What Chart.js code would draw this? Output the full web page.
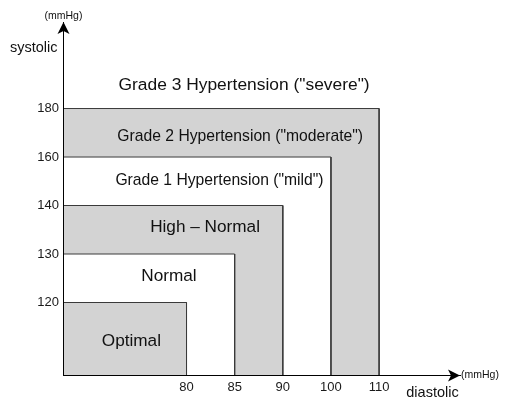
<!DOCTYPE html>
<html>
<head>
<meta charset="utf-8">
<script src="https://cdn.jsdelivr.net/npm/chart.js@4/dist/chart.umd.min.js"></script>
<style>
  html, body { margin: 0; padding: 0; background: #ffffff; }
  #wrap { width: 514px; height: 413px; }
</style>
</head>
<body>
<div id="wrap"><canvas id="c" width="514" height="413"></canvas></div>
<script>
// ---- data ----
const diastolicTicks = [80, 85, 90, 100, 110];          // mmHg (x axis)
const systolicTicks  = [120, 130, 140, 160, 180];       // mmHg (y axis)
const categories = [
  'Optimal',
  'Normal',
  'High \u2013 Normal',
  'Grade 1 Hypertension ("mild")',
  'Grade 2 Hypertension ("moderate")',
  'Grade 3 Hypertension ("severe")'
];
const upperDiastolic = [80, 85, 90, 100, 110, null];     // upper bound of each class
const upperSystolic  = [120, 130, 140, 160, 180, null];

// ---- layout / style (kept apart from data) ----
const X_FIRST = 2.555;   // ordinal position of the first diastolic tick
const Y_FIRST = 1.505;   // ordinal position of the first systolic tick
const X_MAX = 8.235, Y_MAX = 7.289;
const fills = ['#d3d3d3', '#ffffff', '#d3d3d3', '#ffffff', '#d3d3d3', null];
const labelAnchors = [[1.41, 0.71], [2.19, 2.05], [2.94, 3.06], [3.24, 4.01], [3.67, 4.93], [3.75, 5.98]];
const labelSizes = [17.2, 17.2, 17.2, 15.7, 15.7, 17.4];
const FONT = '"Liberation Sans", Arial, sans-serif';

const xPos = v => X_FIRST + diastolicTicks.indexOf(v);
const yPos = v => Y_FIRST + systolicTicks.indexOf(v);

const datasets = [];
categories.forEach((name, i) => {
  if (upperDiastolic[i] == null) return;
  const x = xPos(upperDiastolic[i]), y = yPos(upperSystolic[i]);
  datasets.push({
    label: name,
    data: [{x: 0, y: y}, {x: x, y: y}, {x: x, y: 0}],
    borderColor: '#3a3a3a',
    borderWidth: 1,
    backgroundColor: fills[i],
    fill: 'origin',
    pointRadius: 0,
    tension: 0
  });
});

const decor = {
  id: 'decor',
  afterDatasetsDraw(chart) {
    const ctx = chart.ctx;
    const xs = chart.scales.x, ys = chart.scales.y;
    const ca = chart.chartArea;
    ctx.save();
    // region labels
    ctx.fillStyle = '#111';
    ctx.textAlign = 'center';
    ctx.textBaseline = 'middle';
    categories.forEach((name, i) => {
      ctx.font = labelSizes[i] + 'px ' + FONT;
      ctx.fillText(name, xs.getPixelForValue(labelAnchors[i][0]), ys.getPixelForValue(labelAnchors[i][1]));
    });
    // axes (redrawn on top) and arrowheads
    ctx.strokeStyle = '#000';
    ctx.lineWidth = 1;
    ctx.beginPath();
    ctx.moveTo(ca.left, ca.top + 4); ctx.lineTo(ca.left, ca.bottom); ctx.lineTo(ca.right - 4, ca.bottom);
    ctx.stroke();
    ctx.fillStyle = '#000';
    ctx.beginPath();
    ctx.moveTo(ca.left, ca.top);
    ctx.lineTo(ca.left - 6, ca.top + 12);
    ctx.lineTo(ca.left, ca.top + 9);
    ctx.lineTo(ca.left + 6, ca.top + 12);
    ctx.closePath(); ctx.fill();
    ctx.beginPath();
    ctx.moveTo(ca.right, ca.bottom);
    ctx.lineTo(ca.right - 12, ca.bottom - 6);
    ctx.lineTo(ca.right - 9, ca.bottom);
    ctx.lineTo(ca.right - 12, ca.bottom + 6);
    ctx.closePath(); ctx.fill();
    // axis titles
    ctx.fillStyle = '#111';
    ctx.font = '10.5px ' + FONT;
    ctx.textAlign = 'center';
    ctx.fillText('(mmHg)', ca.left, ca.top - 6);
    ctx.textAlign = 'left';
    ctx.fillText('(mmHg)', ca.right + 1, ca.bottom);
    ctx.font = '14.5px ' + FONT;
    ctx.textAlign = 'right';
    ctx.fillText('systolic', ca.left - 6, ca.top + 25.5);
    ctx.textAlign = 'center';
    ctx.fillText('diastolic', ca.right - 27.5, ca.bottom + 17.5);
    ctx.restore();
  }
};

new Chart(document.getElementById('c'), {
  type: 'line',
  data: { datasets },
  options: {
    responsive: false,
    animation: false,
    layout: { padding: { top: 22, right: 54, left: 0, bottom: 0 } },
    plugins: { legend: { display: false }, tooltip: { enabled: false } },
    scales: {
      x: {
        type: 'linear', min: 0, max: X_MAX,
        grid: { display: false, drawTicks: false },
        border: { display: true, color: '#000', width: 1 },
        afterFit: s => { s.height = 37.5; },
        afterBuildTicks: s => { s.ticks = diastolicTicks.map((v, i) => ({ value: X_FIRST + i })); },
        ticks: {
          padding: 4, color: '#1a1a1a', font: { size: 13, family: FONT },
          maxRotation: 0, autoSkip: false,
          callback: (v, i) => diastolicTicks[i]
        }
      },
      y: {
        type: 'linear', min: 0, max: Y_MAX,
        grid: { display: false, drawTicks: false },
        border: { display: true, color: '#000', width: 1 },
        afterFit: s => { s.width = 63.5; },
        afterBuildTicks: s => { s.ticks = systolicTicks.map((v, i) => ({ value: Y_FIRST + i })); },
        ticks: {
          padding: 4.5, color: '#1a1a1a', font: { size: 13, family: FONT },
          autoSkip: false,
          callback: (v, i) => systolicTicks[i]
        }
      }
    }
  },
  plugins: [decor]
});
</script>
</body>
</html>
